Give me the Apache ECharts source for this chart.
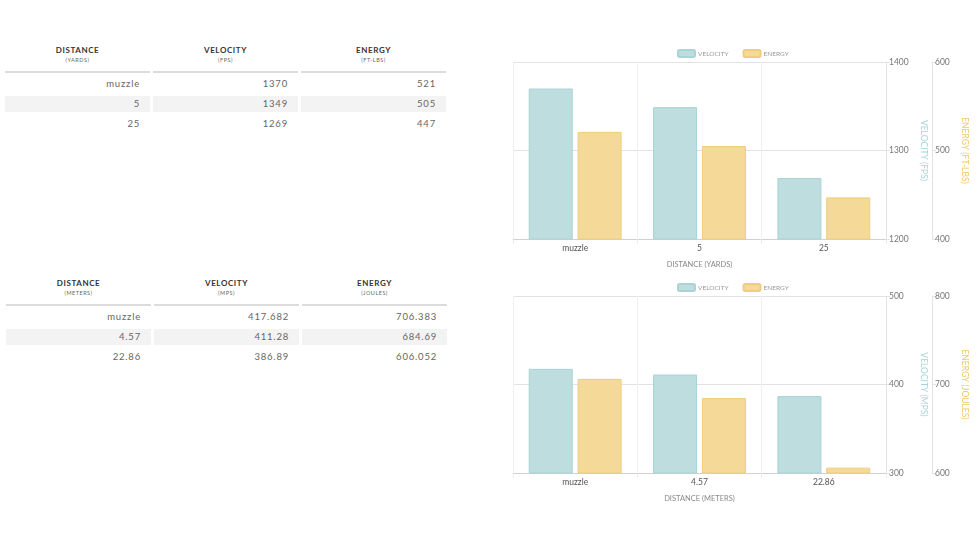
<!DOCTYPE html>
<html>
<head>
<meta charset="utf-8">
<script src="https://cdn.jsdelivr.net/npm/echarts@6/dist/echarts.min.js"></script>
<style>
  body { margin: 0; background: #fff; font-family: Lato, "Open Sans", sans-serif; }
  #page { position: relative; width: 978px; height: 550px; overflow: hidden; }
  .cell { position: absolute; box-sizing: border-box; }
  .title { font-size: 8px; font-weight: bold; color: #333; letter-spacing: 0.6px; text-align: center; line-height: 10px; }
  .sub { font-size: 5.5px; color: #666; letter-spacing: 0.5px; text-align: center; line-height: 8px; }
  .rule { height: 2px; background: #dcdcdc; }
  .val { font-size: 9.5px; color: #666; letter-spacing: 0.8px; text-align: right; padding-right: 10px; line-height: 16px; height: 16px; }
  .shade { background: #f3f3f3; }
  #chart-yards { position: absolute; left: 500px; top: 30px; width: 478px; height: 250px; }
  #chart-meters { position: absolute; left: 500px; top: 265px; width: 478px; height: 250px; }
</style>
</head>
<body>
<div id="page">
  <div id="chart-yards"></div>
  <div id="chart-meters"></div>
</div>
<script>
// imperial table / chart
const yardDistances = ['muzzle', '5', '25'];
const fpsValues = [1370, 1349, 1269];
const ftlbsValues = [521, 505, 447];
const yardHeaders = ['DISTANCE', 'VELOCITY', 'ENERGY'];
const yardUnits = ['(YARDS)', '(FPS)', '(FT-LBS)'];

// metric table / chart
const meterDistances = ['muzzle', '4.57', '22.86'];
const mpsValues = [417.682, 411.28, 386.89];
const jouleValues = [706.383, 684.69, 606.052];
const meterHeaders = ['DISTANCE', 'VELOCITY', 'ENERGY'];
const meterUnits = ['(METERS)', '(MPS)', '(JOULES)'];

const legendNames = ['VELOCITY', 'ENERGY'];

function drawTable(top, left, headers, units, columns) {
  const page = document.getElementById('page');
  const colW = 145, step = 148;
  const add = (cls, x, y, w, text) => {
    const d = document.createElement('div');
    d.className = 'cell ' + cls;
    d.style.left = x + 'px';
    d.style.top = y + 'px';
    d.style.width = w + 'px';
    if (text !== undefined) d.textContent = text;
    page.appendChild(d);
    return d;
  };
  headers.forEach((h, i) => {
    const x = left + i * step;
    add('title', x, top - 5, colW, h);
    add('sub', x, top + 6, colW, units[i]);
    add('rule', x, top + 21, colW);
    columns[i].forEach((v, r) => {
      const cy = top + 34 + r * 20;
      add('val' + (r === 1 ? ' shade' : ''), x, cy - 8, colW, String(v));
    });
  });
}

drawTable(50, 5, yardHeaders, yardUnits, [yardDistances, fpsValues, ftlbsValues]);
drawTable(283, 6, meterHeaders, meterUnits, [meterDistances, mpsValues, jouleValues]);

function initChart(domId, cats, vel, energy, velAxis, energyAxis, xName, velName, energyName, top) {
  const myChart = echarts.init(document.getElementById(domId));
  const valueAxis = (range, name, color, offset, split, gap) => ({
    type: 'value',
    position: 'right',
    offset: offset,
    min: range[0],
    max: range[1],
    interval: range[2],
    name: name,
    nameLocation: 'middle',
    nameRotate: -90,
    nameGap: gap,
    nameTextStyle: { color: color, fontSize: 8.5, fontFamily: 'Lato' },
    axisLine: { show: true, lineStyle: { color: '#e3e3e3' } },
    axisTick: { show: true, length: 4, lineStyle: { color: '#e3e3e3' } },
    axisLabel: { color: '#777', fontSize: 8.5, margin: 3, fontFamily: 'Lato', formatter: (v) => String(v) },
    splitLine: { show: split, lineStyle: { color: '#e2e2e2' } }
  });

  const option = {
    animation: false,
    legend: {
      data: legendNames,
      left: 172,
      top: top - 18,
      itemWidth: 17,
      itemHeight: 7,
      itemGap: 14,
      textStyle: { color: '#999', fontSize: 6.5, fontFamily: 'Lato', padding: [0, 0, 0, -2] }
    },
    grid: { left: 13, width: 373, top: top, height: 177, containLabel: false },
    xAxis: {
      type: 'category',
      data: cats,
      name: xName,
      nameLocation: 'middle',
      nameGap: 22,
      nameTextStyle: { color: '#888', fontSize: 7.5, fontFamily: 'Lato' },
      axisLine: { lineStyle: { color: '#d0d0d0' } },
      axisTick: { show: true, length: 5, lineStyle: { color: '#ececec' } },
      axisLabel: { color: '#555', fontSize: 8.5, margin: 5, fontFamily: 'Lato' },
      splitLine: { show: true, lineStyle: { color: '#efefef' } }
    },
    yAxis: [
      valueAxis(velAxis, velName, '#a7d4d7', 0, true, 33),
      valueAxis(energyAxis, energyName, '#f0c865', 46, false, 28)
    ],
    series: [
      {
        name: legendNames[0],
        type: 'bar',
        yAxisIndex: 0,
        barWidth: 44,
        barGap: '11%',
        data: vel,
        itemStyle: { color: '#bddddf', borderColor: '#a9d3d5', borderWidth: 1 }
      },
      {
        name: legendNames[1],
        type: 'bar',
        yAxisIndex: 1,
        barWidth: 44,
        barGap: '11%',
        data: energy,
        itemStyle: { color: '#f4d998', borderColor: '#efcd7c', borderWidth: 1 }
      }
    ]
  };
  myChart.setOption(option);
}

initChart('chart-yards', yardDistances, fpsValues, ftlbsValues,
  [1200, 1400, 100], [400, 600, 100],
  'DISTANCE (YARDS)', 'VELOCITY (FPS)', 'ENERGY (FT-LBS)', 32);
initChart('chart-meters', meterDistances, mpsValues, jouleValues,
  [300, 500, 100], [600, 800, 100],
  'DISTANCE (METERS)', 'VELOCITY (MPS)', 'ENERGY (JOULES)', 31);
</script>
</body>
</html>
